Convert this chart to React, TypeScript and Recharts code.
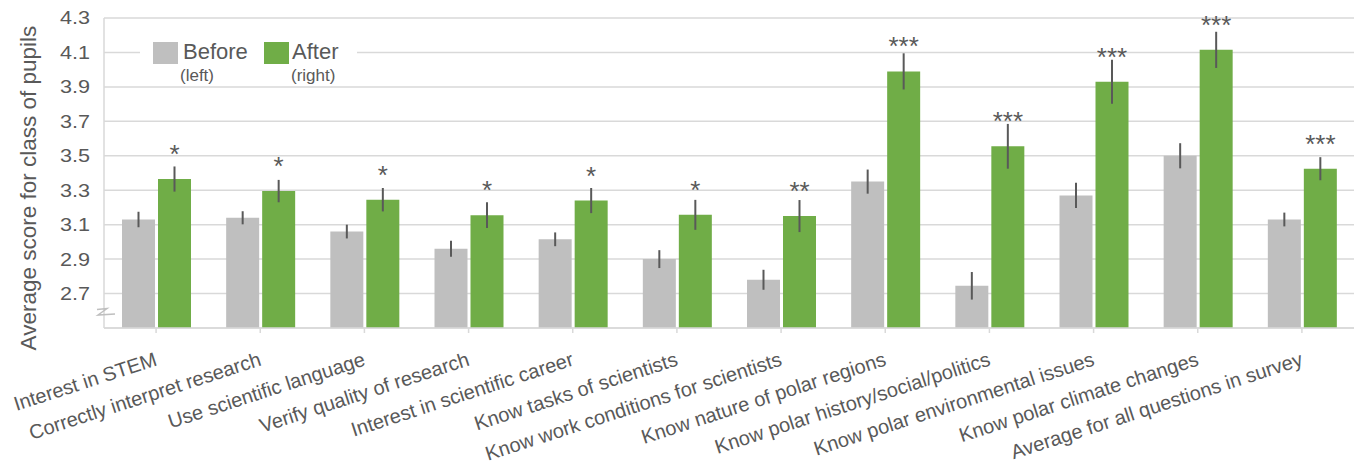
import React from "react";
import {
  Bar,
  BarChart,
  CartesianGrid,
  ErrorBar,
  LabelList,
  XAxis,
  YAxis,
} from "recharts";

const categories = [
  "Interest in STEM",
  "Correctly interpret research",
  "Use scientific language",
  "Verify quality of research",
  "Interest in scientific career",
  "Know tasks of scientists",
  "Know work conditions for scientists",
  "Know nature of polar regions",
  "Know polar history/social/politics",
  "Know polar environmental issues",
  "Know polar climate changes",
  "Average for all questions in survey",
];

const beforeValues = [3.13, 3.14, 3.06, 2.96, 3.015, 2.9, 2.78, 3.35, 2.745, 3.27, 3.5, 3.13];
const beforeErrors = [0.045, 0.038, 0.04, 0.047, 0.04, 0.052, 0.058, 0.07, 0.08, 0.073, 0.073, 0.04];
const afterValues = [3.365, 3.295, 3.245, 3.155, 3.24, 3.157, 3.15, 3.99, 3.555, 3.93, 4.115, 3.425];
const afterErrors = [0.073, 0.065, 0.068, 0.075, 0.073, 0.087, 0.093, 0.105, 0.13, 0.128, 0.105, 0.067];
const significance = ["*", "*", "*", "*", "*", "*", "**", "***", "***", "***", "***", "***"];

const yTicks = [2.7, 2.9, 3.1, 3.3, 3.5, 3.7, 3.9, 4.1, 4.3];
const legendItems = [
  { name: "Before", note: "(left)", color: "#BFBFBF" },
  { name: "After", note: "(right)", color: "#70AD47" },
];

const data = categories.map((name, i) => ({
  name,
  before: beforeValues[i],
  beforeErr: beforeErrors[i],
  after: afterValues[i],
  afterErr: afterErrors[i],
  sig: significance[i],
}));

const FONT = '"Liberation Sans", Arial, sans-serif';
const TEXT = "#595959";
const GRID = "#D9D9D9";

function XTick({ x, y, payload }: any) {
  return (
    <text
      transform={`translate(${x + 2},${y + 30}) rotate(-18)`}
      textAnchor="end"
      fontSize={20}
      fontFamily={FONT}
      fill={TEXT}
    >
      {payload.value}
    </text>
  );
}

function YTick({ x, y, payload }: any) {
  return (
    <text
      transform={`translate(${x},${y}) scale(1.2,1)`}
      textAnchor="end"
      dy="0.36em"
      fontSize={18}
      fontFamily={FONT}
      fill={TEXT}
    >
      {payload.value.toFixed(1)}
    </text>
  );
}

function YLabel({ viewBox }: any) {
  const cx = viewBox.x + 36;
  const cy = viewBox.y + viewBox.height / 2 + 15;
  return (
    <text
      transform={`rotate(-90, ${cx}, ${cy})`}
      x={cx}
      y={cy}
      textAnchor="middle"
      fontSize={22.5}
      fontFamily={FONT}
      fill={TEXT}
    >
      Average score for class of pupils
    </text>
  );
}

function ChartLegend() {
  return (
    <div
      style={{
        position: "absolute",
        left: 140,
        top: 30,
        width: 217,
        height: 52,
        background: "#fff",
        fontFamily: FONT,
        color: TEXT,
      }}
    >
      {legendItems.map((item, i) => {
        const left = 13 + i * 111;
        return (
          <React.Fragment key={item.name}>
            <div
              style={{
                position: "absolute",
                left,
                top: 12,
                width: 25,
                height: 22,
                background: item.color,
              }}
            />
            <span
              style={{
                position: "absolute",
                left: left + 30 - i * 2,
                top: 11,
                fontSize: 22,
                lineHeight: "22px",
                whiteSpace: "nowrap",
              }}
            >
              {item.name}
            </span>
            <span
              style={{
                position: "absolute",
                left: left + 27,
                top: 37,
                fontSize: 17,
                lineHeight: "17px",
                whiteSpace: "nowrap",
              }}
            >
              {item.note}
            </span>
          </React.Fragment>
        );
      })}
    </div>
  );
}

export default function App() {
  return (
    <div
      style={{
        position: "absolute",
        left: 0,
        top: 0,
        width: 1357,
        height: 469,
        background: "#fff",
        fontFamily: FONT,
      }}
    >
      <BarChart
        width={1357}
        height={469}
        data={data}
        margin={{ top: 18, right: 3, bottom: 0, left: 0 }}
        barGap={3}
      >
        <CartesianGrid vertical={false} stroke={GRID} strokeWidth={1.5} />
        <XAxis
          dataKey="name"
          interval={0}
          height={141}
          tickSize={5}
          tickMargin={2}
          tickLine={{ stroke: GRID, strokeWidth: 1.5 }}
          axisLine={{ stroke: GRID, strokeWidth: 1.5 }}
          tick={<XTick />}
        />
        <YAxis
          type="number"
          domain={[2.5, 4.3]}
          ticks={yTicks}
          width={104}
          tickLine={false}
          tickMargin={8}
          axisLine={{ stroke: GRID, strokeWidth: 1.5 }}
          tick={<YTick />}
          label={<YLabel />}
        />
        <Bar dataKey="before" fill="#BFBFBF" barSize={33} isAnimationActive={false}>
          <ErrorBar dataKey="beforeErr" direction="y" width={0} stroke="#595959" strokeWidth={2} />
        </Bar>
        <Bar dataKey="after" fill="#70AD47" barSize={33} isAnimationActive={false}>
          <ErrorBar dataKey="afterErr" direction="y" width={0} stroke="#595959" strokeWidth={2} />
          <LabelList
            dataKey="sig"
            position="top"
            offset={16}
            fontSize={26}
            fontFamily={FONT}
            fill={TEXT}
          />
        </Bar>
      </BarChart>
      <ChartLegend />
      <svg
        width={1357}
        height={469}
        style={{ position: "absolute", left: 0, top: 0, pointerEvents: "none" }}
      >
        <path
          d="M97,309.5 L107,308.5 L98,315 L115,314"
          fill="none"
          stroke="#BFBFBF"
          strokeWidth={1.5}
        />
      </svg>
    </div>
  );
}
